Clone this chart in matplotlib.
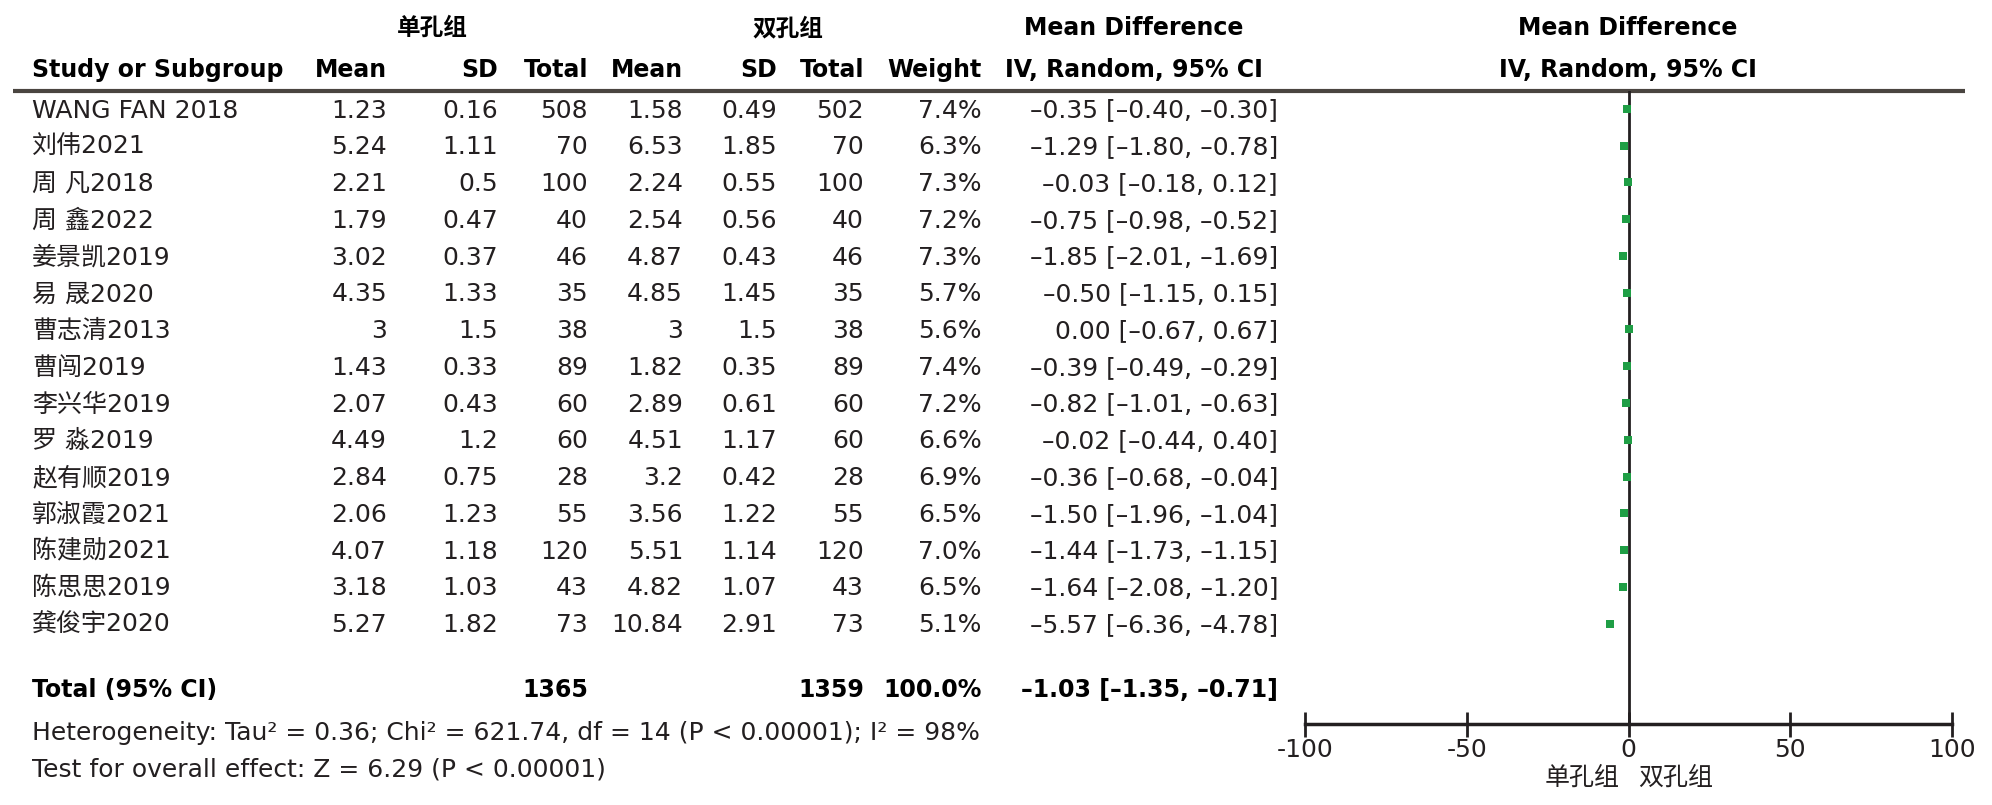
import numpy as np
import matplotlib
matplotlib.use('Agg')
import matplotlib.pyplot as plt

plt.rcParams['font.family'] = ['DejaVu Sans', 'Noto Sans CJK SC']
plt.rcParams['axes.unicode_minus'] = False

# study data
studies = ['WANG FAN 2018', '刘伟2021', '周 凡2018', '周 鑫2022', '姜景凯2019',
           '易 晟2020', '曹志清2013', '曹闯2019', '李兴华2019', '罗 淼2019',
           '赵有顺2019', '郭淑霞2021', '陈建勋2021', '陈思思2019', '龚俊宇2020']
mean1 = [1.23, 5.24, 2.21, 1.79, 3.02, 4.35, 3, 1.43, 2.07, 4.49, 2.84, 2.06, 4.07, 3.18, 5.27]
sd1 = [0.16, 1.11, 0.5, 0.47, 0.37, 1.33, 1.5, 0.33, 0.43, 1.2, 0.75, 1.23, 1.18, 1.03, 1.82]
n1 = [508, 70, 100, 40, 46, 35, 38, 89, 60, 60, 28, 55, 120, 43, 73]
mean2 = [1.58, 6.53, 2.24, 2.54, 4.87, 4.85, 3, 1.82, 2.89, 4.51, 3.2, 3.56, 5.51, 4.82, 10.84]
sd2 = [0.49, 1.85, 0.55, 0.56, 0.43, 1.45, 1.5, 0.35, 0.61, 1.17, 0.42, 1.22, 1.14, 1.07, 2.91]
n2 = [502, 70, 100, 40, 46, 35, 38, 89, 60, 60, 28, 55, 120, 43, 73]
weight = [7.4, 6.3, 7.3, 7.2, 7.3, 5.7, 5.6, 7.4, 7.2, 6.6, 6.9, 6.5, 7.0, 6.5, 5.1]
md = [-0.35, -1.29, -0.03, -0.75, -1.85, -0.50, 0.00, -0.39, -0.82, -0.02, -0.36, -1.50, -1.44, -1.64, -5.57]
ci_lo = [-0.40, -1.80, -0.18, -0.98, -2.01, -1.15, -0.67, -0.49, -1.01, -0.44, -0.68, -1.96, -1.73, -2.08, -6.36]
ci_hi = [-0.30, -0.78, 0.12, -0.52, -1.69, 0.15, 0.67, -0.29, -0.63, 0.40, -0.04, -1.04, -1.15, -1.20, -4.78]

total_n1 = 1365
total_n2 = 1359
total_md, total_lo, total_hi = -1.03, -1.35, -0.71
het_text = 'Heterogeneity: Tau² = 0.36; Chi² = 621.74, df = 14 (P < 0.00001); I² = 98%'
effect_text = 'Test for overall effect: Z = 6.29 (P < 0.00001)'
group1 = '单孔组'
group2 = '双孔组'
xticks = [-100, -50, 0, 50, 100]

W, H = 1992, 805
fs = 18
fsb = 17
ink = '#231f20'
green = '#1f9e45'


def fmt_ci(m, lo, hi):
    s = f'{m:.2f} [{lo:.2f}, {hi:.2f}]'
    return s.replace('-', '–')


fig = plt.figure(figsize=(W / 100, H / 100), dpi=100)
ax0 = fig.add_axes([0, 0, 1, 1])
ax0.set_xlim(0, W)
ax0.set_ylim(H, 0)
ax0.axis('off')

row_y = 110.5 + 36.75 * np.arange(len(studies))
total_y = 690
cols = [387, 498, 588, 683, 777, 864, 982, 1278]  # right edges of numeric columns
zero_x = 1628

# header
ax0.text(432, 28, group1, ha='center', va='center', fontsize=fsb, fontweight='bold')
ax0.text(788, 28, group2, ha='center', va='center', fontsize=fsb, fontweight='bold')
ax0.text(1134, 28, 'Mean Difference', ha='center', va='center', fontsize=fsb, fontweight='bold')
ax0.text(zero_x, 28, 'Mean Difference', ha='center', va='center', fontsize=fsb, fontweight='bold')
ax0.text(32, 70, 'Study or Subgroup', ha='left', va='center', fontsize=fsb, fontweight='bold')
heads = ['Mean', 'SD', 'Total', 'Mean', 'SD', 'Total', 'Weight']
for x, h in zip(cols[:7], heads):
    ax0.text(x, 70, h, ha='right', va='center', fontsize=fsb, fontweight='bold')
ax0.text(1134, 70, 'IV, Random, 95% CI', ha='center', va='center', fontsize=fsb, fontweight='bold')
ax0.text(zero_x, 70, 'IV, Random, 95% CI', ha='center', va='center', fontsize=fsb, fontweight='bold')
ax0.plot([13, 1965], [91.5, 91.5], color='#4a4540', lw=3, solid_capstyle='butt')

# study rows
for i, name in enumerate(studies):
    y = row_y[i]
    vals = [f'{mean1[i]:g}', f'{sd1[i]:g}', f'{n1[i]}', f'{mean2[i]:g}', f'{sd2[i]:g}',
            f'{n2[i]}', f'{weight[i]:.1f}%', fmt_ci(md[i], ci_lo[i], ci_hi[i])]
    ax0.text(32, y, name, ha='left', va='center', fontsize=fs, color=ink)
    for x, v in zip(cols, vals):
        ax0.text(x, y, v, ha='right', va='center', fontsize=fs, color=ink)

# total row
ax0.text(32, total_y, 'Total (95% CI)', ha='left', va='center', fontsize=fsb, fontweight='bold')
ax0.text(cols[2], total_y, str(total_n1), ha='right', va='center', fontsize=fsb, fontweight='bold')
ax0.text(cols[5], total_y, str(total_n2), ha='right', va='center', fontsize=fsb, fontweight='bold')
ax0.text(cols[6], total_y, f'{sum(weight):.1f}%', ha='right', va='center', fontsize=fsb, fontweight='bold')
ax0.text(cols[7], total_y, fmt_ci(total_md, total_lo, total_hi), ha='right', va='center',
         fontsize=fsb, fontweight='bold')
ax0.text(32, 733, het_text, ha='left', va='center', fontsize=fs, color=ink)
ax0.text(32, 769, effect_text, ha='left', va='center', fontsize=fs, color=ink)

# forest panel
left_px, right_px, top_px, bot_px = 1305, 1952, 91.5, 724
ax = fig.add_axes([left_px / W, 1 - bot_px / H, (right_px - left_px) / W, (bot_px - top_px) / H])
ax.set_xlim(-100, 100)
ax.set_ylim(bot_px, top_px)
ax.patch.set_alpha(0)
for s in ['top', 'left', 'right']:
    ax.spines[s].set_visible(False)
ax.spines['bottom'].set_linewidth(2.5)
ax.spines['bottom'].set_color(ink)
ax.set_yticks([])
ax.set_xticks(xticks)
ax.set_xticklabels([str(t) for t in xticks])
ax.tick_params(axis='x', direction='inout', length=18, width=2, colors=ink, labelsize=fs, pad=1)
ax.axvline(0, color=ink, lw=2)

ax.hlines(row_y - 1.5, ci_lo, ci_hi, color=ink, lw=1)
for i in range(len(studies)):
    ax.plot(md[i], row_y[i] - 1.5, 's', color=green, markersize=6.2 * np.sqrt(weight[i] / 7.4),
            markeredgewidth=0)

ax0.text(zero_x - 8, 778, group1, ha='right', va='center', fontsize=fs, color=ink)
ax0.text(zero_x + 10, 778, group2, ha='left', va='center', fontsize=fs, color=ink)

fig.savefig('out.png', dpi=100)
